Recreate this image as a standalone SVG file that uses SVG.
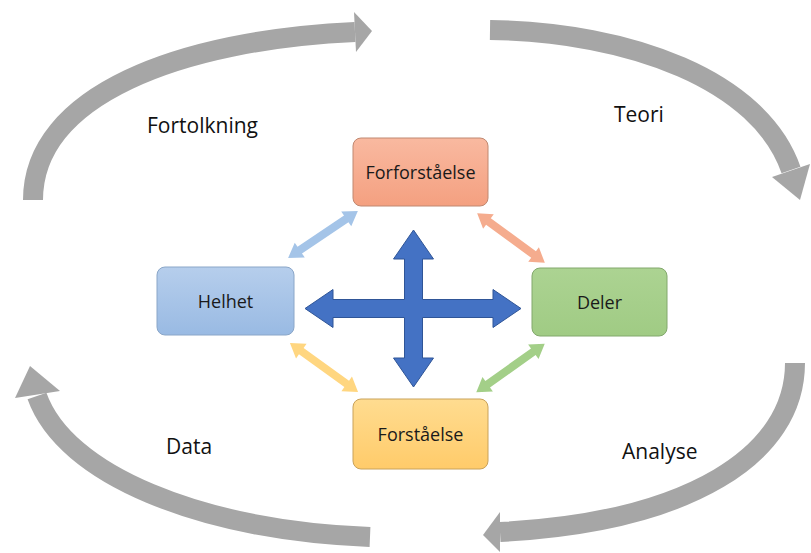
<svg xmlns="http://www.w3.org/2000/svg" width="811" height="553" viewBox="0 0 811 553">
<defs>
<style>
.cyc{fill:none;stroke:#A6A6A6;stroke-width:20;stroke-linecap:butt}
.head{fill:#A6A6A6}
.lbl{font-family:"Open Sans","Liberation Sans",Arial,sans-serif;font-size:21px;fill:#111}
.box text{font-family:"Open Sans","Liberation Sans",Arial,sans-serif;font-size:18px;fill:#1a1a1a;text-anchor:middle}
.box rect{stroke-width:1}
.cross{fill:#4472C4;stroke:#2F5597;stroke-width:1}
</style>
<linearGradient id="gS" x1="0" y1="0" x2="0" y2="1"><stop offset="0" stop-color="#F9B9A0"/><stop offset="1" stop-color="#F4A080"/></linearGradient>
<linearGradient id="gB" x1="0" y1="0" x2="0" y2="1"><stop offset="0" stop-color="#B6CEEC"/><stop offset="1" stop-color="#99BAE3"/></linearGradient>
<linearGradient id="gG" x1="0" y1="0" x2="0" y2="1"><stop offset="0" stop-color="#ACD392"/><stop offset="1" stop-color="#A0CB84"/></linearGradient>
<linearGradient id="gY" x1="0" y1="0" x2="0" y2="1"><stop offset="0" stop-color="#FFDC90"/><stop offset="1" stop-color="#FFCB6A"/></linearGradient>
<path id="dbl" d="M-42,0 L-28,-9 L-28,-4 L28,-4 L28,-9 L42,0 L28,9 L28,4 L-28,4 L-28,9 Z"/>
</defs>
<rect width="811" height="553" fill="#FFFFFF"/>

<g id="connectors">
  <g id="cycle">
    <path class="cyc" d="M33,200 C33,95 180,40 355,32"/>
    <polygon class="head" points="356,52 354,12 372,31"/>
    <path class="cyc" d="M490,30 C630,32 760,80 791,170"/>
    <polygon class="head" points="772,177 810,164 800,200"/>
    <path class="cyc" d="M795,363 C795,455 690,522 500,532"/>
    <polygon class="head" points="500,512 500,552 483,535"/>
    <path class="cyc" d="M370,537 C200,530 65,475 37,396"/>
    <polygon class="head" points="15,398 60,391 30,366"/>
  </g>
  <g id="diagonals">
    <use href="#dbl" fill="#A4C4E8" transform="translate(323,234.5) rotate(-33.9)"/>
    <use href="#dbl" fill="#F5AC8E" transform="translate(511,238) rotate(36.3)"/>
    <use href="#dbl" fill="#FFD680" transform="translate(324,367.5) rotate(35.8)"/>
    <use href="#dbl" fill="#A3CF88" transform="translate(510.5,368) rotate(-35.4)"/>
  </g>
  <g id="cross">
    <path class="cross" d="M305,308.5 L333,289.5 L333,299.5 L404.5,299.5 L404.5,259 L393.5,259 L413.5,230 L433.5,259 L422.5,259 L422.5,299.5 L493,299.5 L493,289.5 L521,308.5 L493,327.5 L493,317.5 L422.5,317.5 L422.5,358 L433.5,358 L413.5,387 L393.5,358 L404.5,358 L404.5,317.5 L333,317.5 L333,327.5 Z"/>
  </g>
</g>

<g id="node-forforstaelse" class="box">
  <rect x="353" y="138" width="135" height="68" rx="8" fill="url(#gS)" stroke="#C08870"/>
  <text x="420.5" y="179">Forforståelse</text>
</g>
<g id="node-helhet" class="box">
  <rect x="157" y="267" width="137" height="68" rx="8" fill="url(#gB)" stroke="#8AA6C8"/>
  <text x="225.5" y="308">Helhet</text>
</g>
<g id="node-deler" class="box">
  <rect x="532" y="268" width="135" height="68" rx="8" fill="url(#gG)" stroke="#82A86C"/>
  <text x="599.5" y="309">Deler</text>
</g>
<g id="node-forstaelse" class="box">
  <rect x="353" y="399" width="135" height="70" rx="8" fill="url(#gY)" stroke="#C9A25A"/>
  <text x="420.5" y="441">Forståelse</text>
</g>

<g id="labels">
  <text class="lbl" x="147" y="133">Fortolkning</text>
  <text class="lbl" x="614" y="122">Teori</text>
  <text class="lbl" x="166" y="454">Data</text>
  <text class="lbl" x="622" y="459">Analyse</text>
</g>
</svg>
